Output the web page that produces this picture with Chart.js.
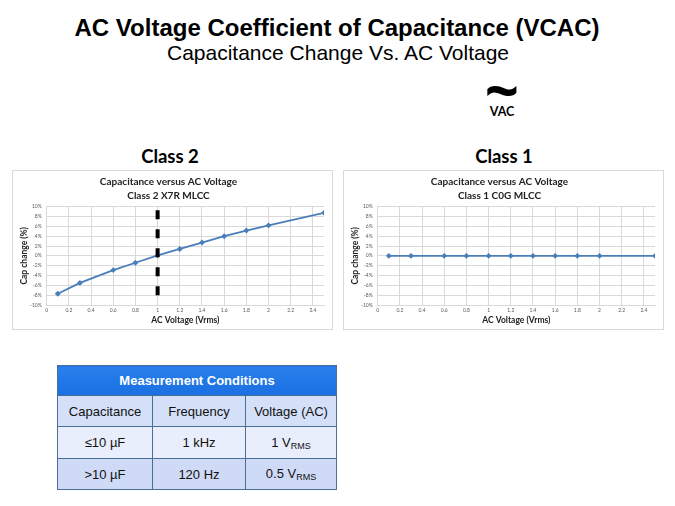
<!DOCTYPE html>
<html>
<head>
<meta charset="utf-8">
<script src="https://cdn.jsdelivr.net/npm/chart.js@4/dist/chart.umd.min.js"></script>
<style>
    body { margin: 0; background: #fff; }
    #slide { position: relative; width: 675px; height: 506px; overflow: hidden; font-family: "Liberation Sans", Arial, sans-serif; color: #000; }
    .txt { position: absolute; white-space: nowrap; transform: translate(-50%, -50%); }
    .frame { position: absolute; width: 321px; height: 160px; border: 1px solid #d9d9d9; box-sizing: border-box; background: #fff; }
    .frame canvas { display: block; }
    table { position: absolute; left: 57px; top: 365px; width: 280px; border-collapse: collapse; font-size: 13px; }
    td, th { border: 1px solid #4a6f96; text-align: center; padding: 0; color: #111; }
    th { background: linear-gradient(#2b80ec, #1a6fe2); color: #fff; font-weight: bold; height: 29px; }
    tr.r1 td { background: #d4dff8; height: 30px; }
    tr.r2 td { background: #e8eefb; height: 31px; }
    tr.r3 td { background: #cfdaf6; height: 30px; }
    sub { font-size: 9px; vertical-align: -2px; }
</style>
</head>
<body>
<div id="slide">
    <div class="txt" style="left:337px; top:28px; font-size:24px; font-weight:bold;">AC Voltage Coefficient of Capacitance (VCAC)</div>
    <div class="txt" style="left:338px; top:53px; font-size:21px;">Capacitance Change Vs. AC Voltage</div>
    <div class="txt" style="left:502px; top:90px; font-size:60px; font-weight:bold; font-family:'Open Sans', sans-serif;">~</div>
    <div class="txt" style="left:502px; top:111px; font-size:12.5px; font-weight:bold; font-family:Lato, sans-serif;">VAC</div>
    <div class="txt" style="left:170px; top:156px; font-size:18.5px; font-weight:bold; font-family:Lato, sans-serif;">Class 2</div>
    <div class="txt" style="left:504px; top:156px; font-size:18.5px; font-weight:bold; font-family:Lato, sans-serif;">Class 1</div>

    <div class="frame" style="left:12px; top:170px;"><canvas id="class2Chart"></canvas></div>
    <div class="frame" style="left:343px; top:170px;"><canvas id="class1Chart"></canvas></div>

    <table>
        <tr><th colspan="3">Measurement Conditions</th></tr>
        <tr class="r1"><td style="width:94px">Capacitance</td><td style="width:92px">Frequency</td><td>Voltage (AC)</td></tr>
        <tr class="r2"><td>≤10 µF</td><td>1 kHz</td><td>1 V<sub>RMS</sub></td></tr>
        <tr class="r3"><td>&gt;10 µF</td><td>120 Hz</td><td>0.5 V<sub>RMS</sub></td></tr>
    </table>
</div>
<script>
// Measured points (AC voltage in Vrms)
const voltages = [0.1, 0.3, 0.6, 0.8, 1.0, 1.2, 1.4, 1.6, 1.8, 2.0, 2.5];
const x7rChange = [-7.7, -5.5, -2.9, -1.4, 0.1, 1.4, 2.7, 4.0, 5.15, 6.2, 8.75];
const c0gChange = [0, 0, 0, 0, 0, 0, 0, 0, 0, 0, 0];

// 1 Vrms marker on the Class 2 plot
const markerX = [1, 1];
const markerY = [9.3, -10];

// axis ticks
const xTicks = [0, 0.2, 0.4, 0.6, 0.8, 1, 1.2, 1.4, 1.6, 1.8, 2, 2.2, 2.4];
const yTicks = [-10, -8, -6, -4, -2, 0, 2, 4, 6, 8, 10];
const xMin = 0, xMax = 2.5;

const lineBlue = '#4a7ebb';
const gridGray = '#d9d9d9';
const tickGray = '#595959';

function toPoints(xs, ys) {
    return xs.map(function(x, i) { return { x: x, y: ys[i] }; });
}

function makeChart(canvasId, subtitle, values, withMarker) {
    const datasets = [{
        data: toPoints(voltages, values),
        borderColor: lineBlue,
        backgroundColor: lineBlue,
        borderWidth: 1.8,
        pointStyle: 'rectRot',
        pointRadius: 1.7,
        order: 1
    }];
    if (withMarker) {
        datasets.push({
            data: toPoints(markerX, markerY),
            borderColor: '#000',
            borderWidth: 4,
            borderDash: [9, 10],
            pointRadius: 0,
            order: 0
        });
    }

    return new Chart(document.getElementById(canvasId), {
        type: 'line',
        data: { datasets: datasets },
        options: {
            responsive: true,
            maintainAspectRatio: false,
            animation: false,
            layout: { padding: { left: 0, right: 8, top: 0, bottom: 0 } },
            plugins: {
                legend: { display: false },
                tooltip: { enabled: false },
                title: {
                    display: true,
                    text: ['Capacitance versus AC Voltage', subtitle],
                    color: '#222',
                    font: { family: 'Lato', size: 10, weight: 'bold', lineHeight: 1.4 },
                    padding: { top: 3.7, bottom: 4 }
                }
            },
            scales: {
                x: {
                    type: 'linear',
                    min: xMin,
                    max: xMax,
                    afterBuildTicks: function(scale) {
                        scale.ticks = xTicks.map(function(v) { return { value: v }; });
                    },
                    afterFit: function(scale) { scale.height = 24; },
                    ticks: {
                        padding: 2.5,
                        color: tickGray,
                        font: { family: 'Lato', size: 5 },
                        maxRotation: 0,
                        autoSkip: false,
                        callback: function(v) { return String(Number(v.toFixed(1))); }
                    },
                    grid: { color: gridGray, drawTicks: false },
                    border: { color: gridGray },
                    title: {
                        display: true,
                        text: 'AC Voltage (Vrms)',
                        color: '#222',
                        font: { family: 'Lato', size: 8.5, weight: 'bold', lineHeight: 1.2 },
                        padding: { top: 0, bottom: 3.9 }
                    }
                },
                y: {
                    min: yTicks[0],
                    max: yTicks[yTicks.length - 1],
                    afterBuildTicks: function(scale) {
                        scale.ticks = yTicks.map(function(v) { return { value: v }; });
                    },
                    afterFit: function(scale) { scale.width = 33.7; },
                    ticks: {
                        padding: 5,
                        color: tickGray,
                        font: { family: 'Lato', size: 5 },
                        autoSkip: false,
                        callback: function(v) { return v + '%'; }
                    },
                    grid: { color: gridGray, drawTicks: false },
                    border: { color: gridGray },
                    title: {
                        display: true,
                        text: 'Cap change (%)',
                        color: '#222',
                        font: { family: 'Lato', size: 8.5, weight: 'bold', lineHeight: 1.2 },
                        padding: { top: 6, bottom: 0 }
                    }
                }
            }
        }
    });
}

makeChart('class2Chart', 'Class 2 X7R MLCC', x7rChange, true);
makeChart('class1Chart', 'Class 1 C0G MLCC', c0gChange, false);
</script>
</body>
</html>
